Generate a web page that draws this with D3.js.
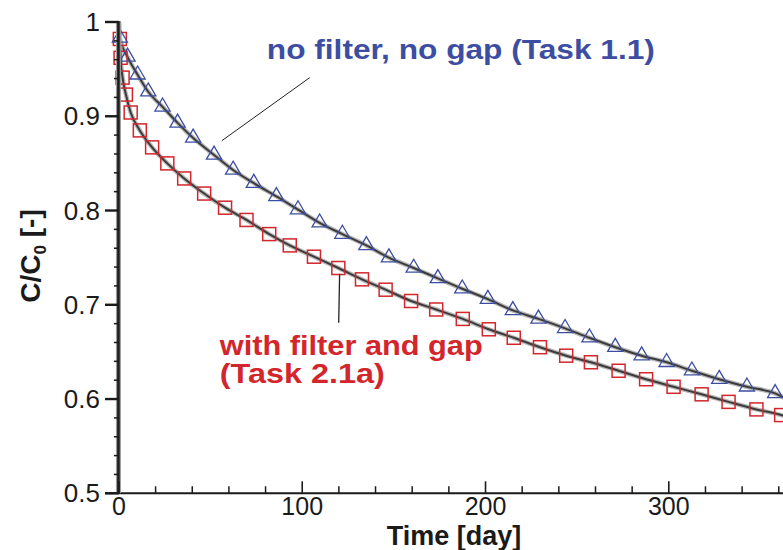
<!DOCTYPE html>
<html>
<head>
<meta charset="utf-8">
<script src="https://cdn.jsdelivr.net/npm/d3@7"></script>
<style>
  html, body { margin: 0; padding: 0; background: #ffffff; }
  svg { display: block; }
  text { font-family: "Liberation Sans", Arial, Helvetica, sans-serif; }
</style>
</head>
<body>
<svg id="chart" width="783" height="550"></svg>
<script>
// ---- data ----
const triDays = [0.5, 4.7, 10.2, 16.0, 23.8, 32.0, 40.5, 51.9, 62.3, 73.6, 85.9, 97.7, 109.5, 121.9, 135.0, 147.3, 160.8, 174.0, 187.3, 201.3, 214.9, 228.9, 243.4, 256.7, 270.8, 285.2, 298.8, 312.6, 327.5, 342.6, 358.0];
const triValues = [0.983, 0.963, 0.944, 0.926, 0.910, 0.893, 0.877, 0.859, 0.843, 0.829, 0.815, 0.801, 0.787, 0.775, 0.763, 0.750, 0.739, 0.728, 0.717, 0.706, 0.694, 0.685, 0.675, 0.665, 0.655, 0.646, 0.639, 0.630, 0.621, 0.613, 0.606];
const sqDays = [0.5, 0.9, 2.0, 3.8, 6.4, 11.4, 18.1, 26.4, 35.6, 46.5, 57.9, 69.6, 82.0, 93.2, 106.4, 119.7, 132.6, 145.5, 159.4, 173.1, 187.6, 201.8, 215.4, 229.7, 244.0, 257.5, 272.6, 287.6, 302.6, 317.9, 332.6, 347.8, 361.3];
const sqValues = [0.982, 0.962, 0.941, 0.923, 0.904, 0.885, 0.867, 0.850, 0.834, 0.818, 0.803, 0.790, 0.775, 0.763, 0.751, 0.739, 0.727, 0.716, 0.704, 0.695, 0.685, 0.674, 0.665, 0.655, 0.646, 0.639, 0.630, 0.621, 0.613, 0.605, 0.597, 0.589, 0.583];
// curve end points (start at C/C0 = 1, run off the right edge)
const curveStart = [0, 1.0];
const triCurveEnd = [366, 0.598];
const sqCurveEnd = [366, 0.580];

const xMajorTicks = [0, 100, 200, 300];
const xMinorTicks = [20, 40, 60, 80, 120, 140, 160, 180, 220, 240, 260, 280, 320, 340, 360];
const yMajorTicks = [0.5, 0.6, 0.7, 0.8, 0.9, 1.0];
const yTickLabels = ["0.5", "0.6", "0.7", "0.8", "0.9", "1"];
const yMinorTicks = [0.52, 0.54, 0.56, 0.58, 0.62, 0.64, 0.66, 0.68, 0.72, 0.74, 0.76, 0.78, 0.82, 0.84, 0.86, 0.88, 0.92, 0.94, 0.96, 0.98];

const labelBlue = "no filter, no gap (Task 1.1)";
const labelRed = ["with filter and gap", "(Task 2.1a)"];

// ---- layout ----
const W = 783, H = 550;
const x = d3.scaleLinear().domain([-7.6, 362.3]).range([105, 783]);
const y = d3.scaleLinear().domain([0.5, 1.0]).range([493.3, 22]);

const svg = d3.select("#chart");
const blue = "#3d4ea2", red = "#d2262c";

svg.append("defs").append("clipPath").attr("id", "plotclip")
  .append("rect").attr("x", x(0)).attr("y", 0).attr("width", W - x(0)).attr("height", y(0.5));

// curves
const triCurve = [curveStart].concat(triDays.map((d, i) => [d, triValues[i]]), [triCurveEnd]);
const sqCurve = [curveStart].concat(sqDays.map((d, i) => [d, sqValues[i]]), [sqCurveEnd]);
const line = d3.line().x(d => x(d[0])).y(d => y(d[1])).curve(d3.curveMonotoneX);

const cg = svg.append("g").attr("clip-path", "url(#plotclip)");
[triCurve, sqCurve].forEach(c => {
  cg.append("path").attr("d", line(c)).attr("fill", "none")
    .attr("stroke", "#b8b8b8").attr("stroke-width", 4.5);
  cg.append("path").attr("d", line(c)).attr("fill", "none")
    .attr("stroke", "#3c3c3c").attr("stroke-width", 2);
});

// markers
const mg = svg.append("g");
mg.selectAll("rect.sq").data(sqDays.map((d, i) => [d, sqValues[i]])).join("rect")
  .attr("class", "sq")
  .attr("x", d => x(d[0]) - 6.5).attr("y", d => y(d[1]) - 6.5)
  .attr("width", 13).attr("height", 13)
  .attr("fill", "none").attr("stroke", red).attr("stroke-width", 1.5);
mg.selectAll("path.tri").data(triDays.map((d, i) => [d, triValues[i]])).join("path")
  .attr("class", "tri")
  .attr("d", "M0,-8.8L7.6,4.2L-7.6,4.2Z")
  .attr("transform", d => `translate(${x(d[0])},${y(d[1])})`)
  .attr("fill", "none").attr("stroke", blue).attr("stroke-width", 1.3);

// axes
const ag = svg.append("g");
// x axis line
ag.append("line").attr("x1", 105).attr("x2", W).attr("y1", y(0.5)).attr("y2", y(0.5))
  .attr("stroke", "#1a1a1a").attr("stroke-width", 2);
// y axis line
ag.append("line").attr("x1", x(0) - 0.5).attr("x2", x(0) - 0.5).attr("y1", y(1) - 1).attr("y2", y(0.5))
  .attr("stroke", "#9a9a9a").attr("stroke-width", 5);
ag.append("line").attr("x1", x(0) - 0.5).attr("x2", x(0) - 0.5).attr("y1", y(1) - 1).attr("y2", y(0.5))
  .attr("stroke", "#1e1e1e").attr("stroke-width", 2.6);

// x ticks (pointing up)
ag.selectAll("line.xmaj").data(xMajorTicks).join("line").attr("class", "xmaj")
  .attr("x1", d => x(d)).attr("x2", d => x(d)).attr("y1", y(0.5)).attr("y2", y(0.5) - 12)
  .attr("stroke", "#1a1a1a").attr("stroke-width", 1.6);
ag.selectAll("line.xmin").data(xMinorTicks).join("line").attr("class", "xmin")
  .attr("x1", d => x(d)).attr("x2", d => x(d)).attr("y1", y(0.5)).attr("y2", y(0.5) - 7)
  .attr("stroke", "#1a1a1a").attr("stroke-width", 1.5);
ag.selectAll("text.xl").data(xMajorTicks).join("text").attr("class", "xl")
  .attr("x", d => x(d)).attr("y", 515).attr("text-anchor", "middle")
  .attr("font-size", 25).attr("fill", "#1a1a1a").text(d => d);

// y ticks (pointing left)
ag.selectAll("line.ymaj").data(yMajorTicks).join("line").attr("class", "ymaj")
  .attr("x1", 105).attr("x2", x(0)).attr("y1", d => y(d)).attr("y2", d => y(d))
  .attr("stroke", "#1a1a1a").attr("stroke-width", 2.4);
ag.selectAll("line.ymin").data(yMinorTicks).join("line").attr("class", "ymin")
  .attr("x1", x(0) - 5).attr("x2", x(0)).attr("y1", d => y(d)).attr("y2", d => y(d))
  .attr("stroke", "#1a1a1a").attr("stroke-width", 1.5);
ag.selectAll("text.yl").data(yMajorTicks).join("text").attr("class", "yl")
  .attr("x", 100).attr("y", d => y(d) + 9).attr("text-anchor", "end")
  .attr("font-size", 26).attr("fill", "#1a1a1a").text((d, i) => yTickLabels[i]);

// axis titles
svg.append("text").attr("x", 454).attr("y", 545).attr("text-anchor", "middle")
  .attr("font-size", 27).attr("font-weight", "bold").attr("fill", "#1a1a1a")
  .text("Time [day]");
const yt = svg.append("text").attr("transform", "translate(40,256) rotate(-90)")
  .attr("text-anchor", "middle").attr("font-size", 28).attr("font-weight", "bold").attr("fill", "#1a1a1a");
yt.append("tspan").text("C/C");
yt.append("tspan").attr("font-size", 17).attr("dy", 6).text("0");
yt.append("tspan").attr("dy", -6).text(" [-]");

// annotations
svg.append("line").attr("x1", x(56.1)).attr("y1", y(0.874)).attr("x2", x(104.1)).attr("y2", y(0.941))
  .attr("stroke", "#222").attr("stroke-width", 1);
svg.append("line").attr("x1", x(120.4)).attr("y1", y(0.733)).attr("x2", x(119.9)).attr("y2", y(0.681))
  .attr("stroke", "#222").attr("stroke-width", 1.3);

svg.append("text").attr("x", x(80.7)).attr("y", y(0.9605))
  .attr("font-size", 27).attr("font-weight", "bold").attr("fill", blue)
  .attr("textLength", 388).attr("lengthAdjust", "spacingAndGlyphs").text(labelBlue);
svg.append("text").attr("x", x(55.0)).attr("y", y(0.6465))
  .attr("font-size", 27).attr("font-weight", "bold").attr("fill", red)
  .attr("textLength", 263).attr("lengthAdjust", "spacingAndGlyphs").text(labelRed[0]);
svg.append("text").attr("x", x(55.0)).attr("y", y(0.617))
  .attr("font-size", 27).attr("font-weight", "bold").attr("fill", red)
  .attr("textLength", 165).attr("lengthAdjust", "spacingAndGlyphs").text(labelRed[1]);
</script>
</body>
</html>
